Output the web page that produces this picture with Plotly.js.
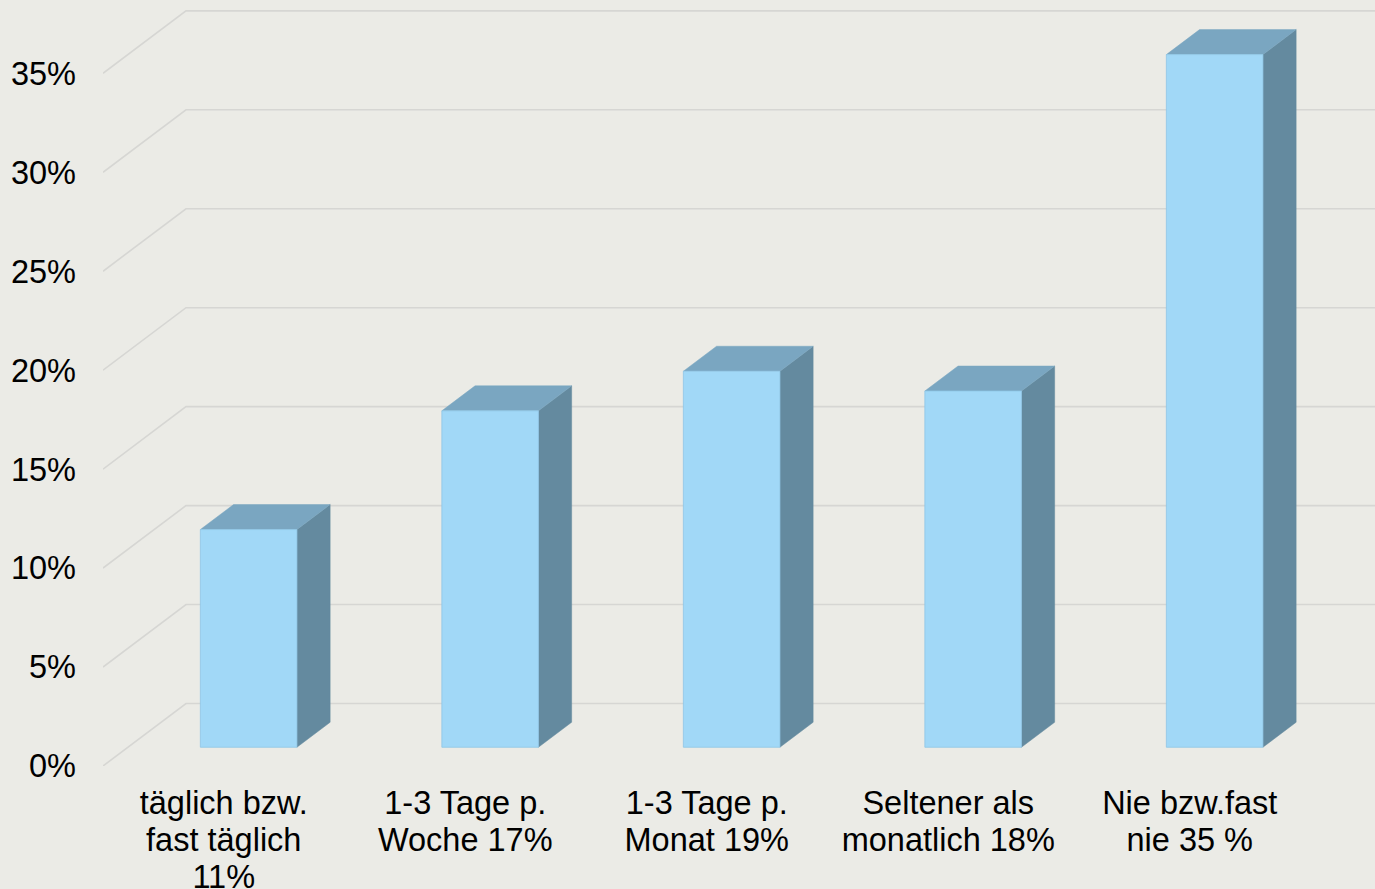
<!DOCTYPE html>
<html><head><meta charset="utf-8">
<script src="https://cdn.plot.ly/plotly-3.0.1.min.js"></script>
<style>html,body{margin:0;padding:0;background:#EBEBE6;} #chart{width:1375px;height:889px;}</style>
</head><body><div id="chart"></div>
<script>
// ---- data ----
const categories = [
  "täglich bzw.<br>fast täglich<br>11%",
  "1-3 Tage p.<br>Woche 17%",
  "1-3 Tage p.<br>Monat 19%",
  "Seltener als<br>monatlich 18%",
  "Nie bzw.fast<br>nie 35 %"
];
const values = [11, 17, 19, 18, 35];
const yTickValues = [0, 5, 10, 15, 20, 25, 30, 35];

// ---- oblique 3D projection (styling constants) ----
const PX_PER_CAT = 241.5, PX_PER_PCT = 19.79;
const WALL_DX = 83 / PX_PER_CAT;     // depth shift of back wall, category units
const WALL_DY = 62.5 / PX_PER_PCT;   // depth shift of back wall, % units
const D_FRONT = 0.3, D_BACK = 0.7, HALF_W = 0.2;

const xIdx = categories.map((c, i) => i);

// wall grid lines (left side wall diagonals + back wall horizontals)
const gx = [], gy = [];
const xL = -0.5, xFar = categories.length + 1;
yTickValues.forEach(v => {
  gx.push(xL, xL + WALL_DX, xFar, null);
  gy.push(v, v + WALL_DY, v + WALL_DY, null);
});

// bar faces
const fx = [], fy = [], tx = [], ty = [], sx = [], sy = [];
xIdx.forEach((c, i) => {
  const v = values[i];
  const xlf = c - HALF_W + D_FRONT * WALL_DX, xrf = c + HALF_W + D_FRONT * WALL_DX;
  const xlb = c - HALF_W + D_BACK * WALL_DX,  xrb = c + HALF_W + D_BACK * WALL_DX;
  const yf = D_FRONT * WALL_DY, yb = D_BACK * WALL_DY;
  fx.push(xlf, xrf, xrf, xlf, xlf, null); fy.push(yf, yf, v + yf, v + yf, yf, null);
  tx.push(xlf, xrf, xrb, xlb, xlf, null); ty.push(v + yf, v + yf, v + yb, v + yb, v + yf, null);
  sx.push(xrf, xrb, xrb, xrf, xrf, null); sy.push(yf, yb, v + yb, v + yf, yf, null);
});

const traces = [
  {x: gx, y: gy, mode: 'lines', line: {color: '#D6D6D3', width: 1.6}, hoverinfo: 'skip'},
  {x: sx, y: sy, mode: 'lines', fill: 'toself', fillcolor: '#648A9F', line: {color: '#648A9F', width: 0.5}, hoverinfo: 'skip'},
  {x: tx, y: ty, mode: 'lines', fill: 'toself', fillcolor: '#7AA6C1', line: {color: '#7AA6C1', width: 0.5}, hoverinfo: 'skip'},
  {x: fx, y: fy, mode: 'lines', fill: 'toself', fillcolor: '#A1D8F7', line: {color: '#8FC6E6', width: 0.8}, hoverinfo: 'skip'}
];

const font = {family: 'Liberation Sans, Arial, sans-serif', size: 32.5, color: '#000000'};
const layout = {
  width: 1375, height: 889,
  margin: {l: 103, r: 0, t: 0, b: 123, pad: 0},
  paper_bgcolor: '#EBEBE6', plot_bgcolor: '#EBEBE6',
  showlegend: false,
  font: font,
  xaxis: {
    range: [-0.5, -0.5 + 1272 / PX_PER_CAT],
    tickmode: 'array', tickvals: xIdx, ticktext: categories,
    showgrid: false, zeroline: false, showline: false, ticks: '',
    tickfont: font, ticklabelstandoff: 14, fixedrange: true
  },
  yaxis: {
    range: [0, 766 / PX_PER_PCT],
    tickmode: 'array', tickvals: yTickValues, ticktext: yTickValues.map(v => v + '%'),
    showgrid: false, zeroline: false, showline: false, ticks: '',
    tickfont: font, ticklabelstandoff: 26, fixedrange: true
  }
};

Plotly.newPlot('chart', traces, layout, {displayModeBar: false, staticPlot: true}).then(gd => {
  gd.querySelectorAll('.xtick text tspan.line').forEach(t => {
    const dy = parseFloat(t.getAttribute('dy'));
    if (!isNaN(dy)) t.setAttribute('dy', (dy / 1.3 * 1.14) + 'em');
  });
});
</script>
</body></html>
